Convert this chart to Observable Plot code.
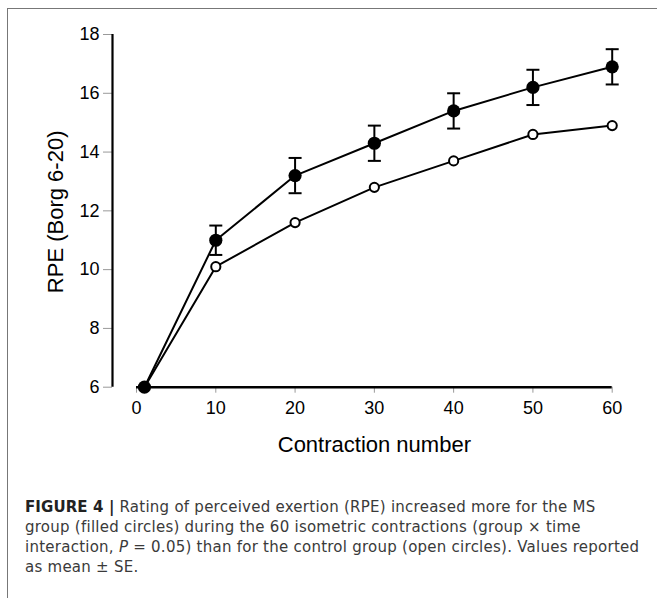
<!DOCTYPE html>
<html><head><meta charset="utf-8">
<script src="https://cdn.jsdelivr.net/npm/d3@7"></script>
<script src="https://cdn.jsdelivr.net/npm/@observablehq/plot@0.6"></script>
<style>
body{margin:0;background:#fff;width:657px;height:598px;overflow:hidden;position:relative;font-family:"Liberation Sans",Arial,sans-serif}
#frame{position:absolute;left:7px;top:8px;width:660px;height:600px;border:1.5px solid #777;box-sizing:border-box}
#chart{position:absolute;left:0;top:0}
#caption{position:absolute;left:25px;top:497px;white-space:nowrap;font-family:"DejaVu Sans",sans-serif;font-size:15px;letter-spacing:0.25px;line-height:20px;color:#3a3a3a}
#caption b{color:#222;letter-spacing:0.1px}
</style></head>
<body>
<div id="frame"></div>
<div id="chart"></div>
<div id="caption"><b>FIGURE 4 |</b> Rating of perceived exertion (RPE) increased more for the MS<br>group (filled circles) during the 60 isometric contractions (group × time<br>interaction, <i>P</i> = 0.05) than for the control group (open circles). Values reported<br>as mean ± SE.</div>
<script>
const contraction = [1, 10, 20, 30, 40, 50, 60];
const msMean = [6, 11.0, 13.2, 14.3, 15.4, 16.2, 16.9];
const msSE = [0, 0.5, 0.6, 0.6, 0.6, 0.6, 0.6];
const controlMean = [6, 10.1, 11.6, 12.8, 13.7, 14.6, 14.9];
const xTicks = [0, 10, 20, 30, 40, 50, 60];
const yTicks = [6, 8, 10, 12, 14, 16, 18];
const xLabel = "Contraction number";
const yLabel = "RPE (Borg 6-20)";

const ms = contraction.map((x, i) => ({x, y: msMean[i], se: msSE[i]}));
const ctrl = contraction.map((x, i) => ({x, y: controlMean[i]}));
const bars = ms.filter(d => d.se > 0);

const capSymbol = {
  draw(ctx, size) {
    const w = Math.sqrt(size / Math.PI);
    ctx.moveTo(-w, 0); ctx.lineTo(w, 0);
  }
};

const xMin = -3.03;
const chart = Plot.plot({
  width: 657,
  height: 470,
  marginLeft: 112,
  marginRight: 45.3,
  marginTop: 34,
  marginBottom: 83.3,
  style: {fontFamily: "Liberation Sans, Arial, sans-serif", background: "transparent", color: "black"},
  x: {domain: [xMin, xTicks[xTicks.length - 1]]},
  y: {domain: [yTicks[0], yTicks[yTicks.length - 1]]},
  marks: [
    Plot.axisY({ticks: yTicks, tickSize: 9, tickPadding: 4, stroke: "#999", fill: "black", fontSize: 18, label: null}),
    Plot.axisX({ticks: xTicks, tickSize: 6, tickPadding: 8, stroke: "#999", fill: "black", fontSize: 18, label: null}),
    Plot.ruleX([xMin], {y1: yTicks[0], y2: yTicks[yTicks.length - 1], stroke: "black", strokeWidth: 2.2}),
    Plot.ruleY([yTicks[0]], {x1: xTicks[0], x2: xTicks[xTicks.length - 1], stroke: "black", strokeWidth: 2.5}),
    Plot.ruleX(bars, {x: "x", y1: d => d.y - d.se, y2: d => d.y + d.se, stroke: "black", strokeWidth: 2}),
    Plot.dot(bars, {x: "x", y: d => d.y + d.se, symbol: capSymbol, r: 6.5, stroke: "black", strokeWidth: 2, fill: "none"}),
    Plot.dot(bars, {x: "x", y: d => d.y - d.se, symbol: capSymbol, r: 6.5, stroke: "black", strokeWidth: 2, fill: "none"}),
    Plot.line(ctrl, {x: "x", y: "y", stroke: "black", strokeWidth: 2}),
    Plot.line(ms, {x: "x", y: "y", stroke: "black", strokeWidth: 2}),
    Plot.dot(ctrl, {x: "x", y: "y", r: 4.6, fill: "white", stroke: "black", strokeWidth: 2}),
    Plot.dot(ms, {x: "x", y: "y", r: 6.6, fill: "black", stroke: "none"}),
    Plot.text([xLabel], {x: (xTicks[0] + xTicks[xTicks.length - 1]) / 2, frameAnchor: "bottom", dy: 57.3, fontSize: 22, lineAnchor: "middle", fill: "black"}),
    Plot.text([yLabel], {frameAnchor: "left", rotate: -90, textAnchor: "middle", dx: -57, dy: 1, fontSize: 22, lineAnchor: "middle", fill: "black"})
  ]
});
document.getElementById("chart").appendChild(chart);
</script>
</body></html>
